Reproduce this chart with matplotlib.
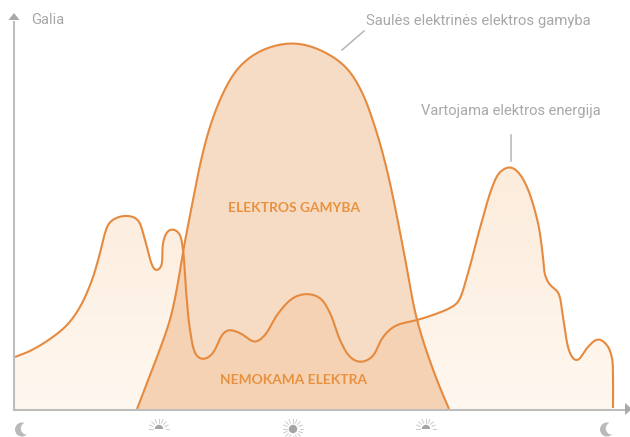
import numpy as np
import matplotlib
matplotlib.use("Agg")
import matplotlib.pyplot as plt
from matplotlib.patches import Circle, Wedge, Polygon

BASE = 409.5
cons_x = [15,30,50,67,80,92,100,105,110,123,137,145,152,156,161,163,167,172,179,183,186,190,195,199,205,213,222,228,240,255,265,277,293,307,320,330,340,350,360,372,383,395,417,430,450,458,468,480,493,500,510,518,527,538,543,545,550,558,563,568,572,577,587,598,607,612,613,613]
cons_y = [357,351,339,325,307,280,253,233,222,216,219,240,265,271,267,243,232,229,233,250,290,330,353,358,359,353,335,330,333,342,335,315,298,294,298,313,340,357,362,357,337,326,320,316,308,302,273,228,185,172,167,172,187,223,257,275,285,292,317,347,357,361,348,339,345,358,375,408]
gen_x = [137,157,170,177,183,192,200,208,217,227,238,253,270,293,313,330,347,362,375,385,393,405,417,435,449]
gen_y = [409,357,320,288,252,205,165,133,107,85,68,55,47,43,47,55,68,92,127,162,197,258,320,375,409]

AXIS = "#bdbdbd"; LINE = "#e58a3e"; TXT = "#a8a8a8"; LABEL = "#e8923f"
SUN_X = [159, 293, 426]
MOON_X = [22, 607]

def smooth(xs, ys, n=12, win=9):
    # centripetal Catmull-Rom through the read points, lightly low-passed
    p = np.column_stack([xs, ys]).astype(float)
    p = np.vstack([2*p[0]-p[1], p, 2*p[-1]-p[-2]])
    out = []
    for i in range(1, len(p) - 2):
        P0, P1, P2, P3 = p[i-1], p[i], p[i+1], p[i+2]
        t0 = 0.0
        t1 = t0 + np.linalg.norm(P1-P0)**0.5
        t2 = t1 + np.linalg.norm(P2-P1)**0.5
        t3 = t2 + np.linalg.norm(P3-P2)**0.5
        t = np.linspace(t1, t2, n, endpoint=False)[:, None]
        A1 = (t1-t)/(t1-t0)*P0 + (t-t0)/(t1-t0)*P1
        A2 = (t2-t)/(t2-t1)*P1 + (t-t1)/(t2-t1)*P2
        A3 = (t3-t)/(t3-t2)*P2 + (t-t2)/(t3-t2)*P3
        B1 = (t2-t)/(t2-t0)*A1 + (t-t0)/(t2-t0)*A2
        B2 = (t3-t)/(t3-t1)*A2 + (t-t1)/(t3-t1)*A3
        out.append((t2-t)/(t2-t1)*B1 + (t-t1)/(t2-t1)*B2)
    out.append(p[-2][None])
    q = np.vstack(out)
    # resample by arc length, then moving average
    s = np.r_[0, np.cumsum(np.hypot(*np.diff(q, axis=0).T))]
    u = np.arange(0, s[-1], 1.0)
    r = np.column_stack([np.interp(u, s, q[:,0]), np.interp(u, s, q[:,1])])
    r = np.vstack([r, q[-1]])
    k = np.ones(win)/win
    pad = win//2
    e = np.vstack([np.repeat(r[:1], pad, 0), r, np.repeat(r[-1:], pad, 0)])
    f = np.column_stack([np.convolve(e[:,0], k, "valid"), np.convolve(e[:,1], k, "valid")])
    f[0] = q[0]; f[-1] = q[-1]
    return f

fig = plt.figure(figsize=(6.30, 4.37), dpi=100)
ax = fig.add_axes([0, 0, 1, 1])
ax.set_xlim(0, 630); ax.set_ylim(437, 0); ax.axis("off")

c = smooth(cons_x, cons_y, win=9); g = smooth(gen_x, gen_y, win=25)
def closed(pts):
    return np.vstack([[pts[0,0], BASE], pts, [pts[-1,0], BASE]])
cp = closed(c); gp = closed(g)

grad = np.linspace(0, 1, 256)
top = np.array([0.988, 0.925, 0.86]); bot = np.array([1.0, 0.97, 0.94])
img = (top + (bot - top) * grad[:, None])[:, None, :]
im = ax.imshow(img, extent=[0, 630, 409.5, 166], aspect="auto", zorder=1)
im.set_clip_path(Polygon(cp, closed=True, transform=ax.transData))
ax.set_xlim(0, 630); ax.set_ylim(437, 0)

ax.add_patch(Polygon(gp, closed=True, fc="#f6dcc5", ec="none", zorder=2))
ov = Polygon(cp, closed=True, fc="#f5d2b4", ec="none", zorder=3)
ax.add_patch(ov)
ov.set_clip_path(Polygon(gp, closed=True, transform=ax.transData))

ax.plot(g[:,0], g[:,1], color=LINE, lw=1.5, zorder=4, solid_capstyle="butt")
ax.plot(c[:,0], c[:,1], color=LINE, lw=1.5, zorder=4, solid_capstyle="butt")

# axes
ax.plot([14, 14], [22, 409.5], color=AXIS, lw=1.5, zorder=5)
ax.plot([14, 626], [409.5, 409.5], color=AXIS, lw=1.5, zorder=5)
ax.add_patch(Polygon([[8.5,20],[19.5,20],[14,13]], closed=True, fc="#a9a9a9", ec="none", zorder=5))
ax.add_patch(Polygon([[625,403],[625,415],[632,409]], closed=True, fc="#a9a9a9", ec="none", zorder=5))

# annotation leaders
ax.plot([342, 364], [50, 31], color="#b5b5b5", lw=1.1)
ax.plot([511, 511], [135, 161], color="#b5b5b5", lw=1.1)

font = "Roboto"
ax.text(31, 19.5, "Galia", color=TXT, fontsize=10.6, family=font, va="center", ha="left")
ax.text(366, 21, "Saulės elektrinės elektros gamyba", color=TXT, fontsize=10.75, family=font, va="center", ha="left")
ax.text(421, 110.5, "Vartojama elektros energija", color=TXT, fontsize=10.65, family=font, va="center", ha="left")
ax.text(293.5, 208.5, "ELEKTROS GAMYBA", color=LABEL, fontsize=9.9, family="Lato", weight="bold", va="center", ha="center", zorder=6)
ax.text(293.5, 380, "NEMOKAMA ELEKTRA", color=LABEL, fontsize=9.9, family="Lato", weight="bold", va="center", ha="center", zorder=6)

ICON = "#b9b9b9"; RAY = "#cfcfcf"
for mx in MOON_X:
    yy = 429.5
    ax.add_patch(Circle((mx, yy), 7, fc=ICON, ec="none", zorder=5))
    ax.add_patch(Circle((mx + 5, yy - 1), 6.2, fc="white", ec="none", zorder=6))
for i, sx in enumerate(SUN_X):
    full = i == 1
    cy = 429
    if full:
        ax.add_patch(Circle((sx, cy), 4.2, fc="#a5a5a5", ec="none", zorder=5))
        ang = np.radians(np.arange(0, 360, 22.5))
    else:
        ax.add_patch(Wedge((sx, cy), 4.2, 180, 360, fc="#a5a5a5", ec="none", zorder=5))
        ang = np.radians(np.arange(180, 361, 22.5))
    for a in ang:
        ax.plot([sx + 6.5*np.cos(a), sx + 10*np.cos(a)], [cy + 6.5*np.sin(a), cy + 10*np.sin(a)],
                color=RAY, lw=0.8, zorder=5)

fig.savefig("out.png", dpi=100)
